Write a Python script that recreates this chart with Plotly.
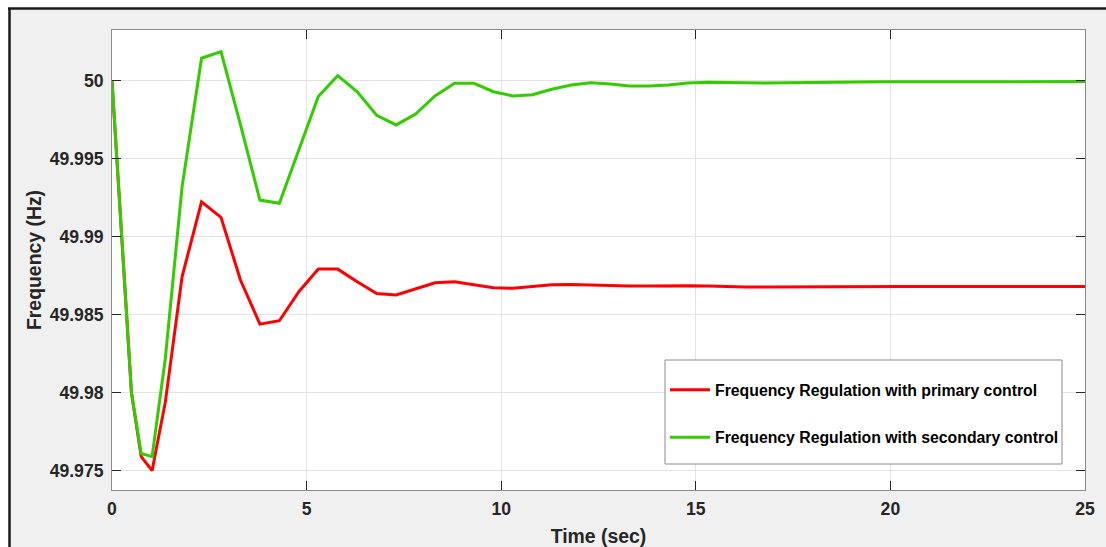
import plotly.graph_objects as go

# Time axis (s)
time_s = [0, 0.5, 0.75, 1.03, 1.37, 1.8,
          2.3, 2.8, 3.3, 3.8, 4.3, 4.8, 5.3, 5.8, 6.3, 6.8, 7.3, 7.8, 8.3, 8.8,
          9.3, 9.8, 10.3, 10.8, 11.3, 11.8, 12.3, 12.8, 13.3, 13.8, 14.3, 14.8,
          15.3, 15.8, 16.3, 16.8, 17.3, 17.8, 18.3, 18.8, 19.3, 19.8, 20.3, 20.8,
          21.3, 21.8, 22.3, 22.8, 23.3, 23.8, 24.3, 24.8, 25]

# Frequency with primary control only (Hz)
freq_primary = [50.0, 49.9800, 49.9759, 49.9750, 49.9794, 49.98744,
                49.99225, 49.99125, 49.98723, 49.98440, 49.98462, 49.98648,
                49.98793, 49.98793, 49.98712, 49.98636, 49.98627, 49.98665,
                49.98705, 49.98712, 49.98694, 49.98673, 49.98670, 49.98681,
                49.98693, 49.98695, 49.98691, 49.98686, 49.98684, 49.98684,
                49.98686, 49.98687, 49.98685, 49.98680, 49.98678, 49.98679,
                49.98680, 49.98681, 49.98682, 49.98682, 49.98682, 49.98682,
                49.98682, 49.98682, 49.98682, 49.98682, 49.98682, 49.98682,
                49.98682, 49.98682, 49.98682, 49.98682, 49.98682]

# Frequency with secondary control (Hz)
freq_secondary = [50.0, 49.9800, 49.9761, 49.9759, 49.9822, 49.9932,
                  50.00146, 50.00188, 49.99720, 49.99236, 49.99215, 49.99564,
                  49.99900, 50.00034, 49.99931, 49.99780, 49.99718, 49.99788,
                  49.99904, 49.99985, 49.99985, 49.99931, 49.99904, 49.99912,
                  49.99947, 49.99974, 49.99989, 49.99981, 49.99968, 49.99968,
                  49.99974, 49.99987, 49.99992, 49.99991, 49.99988, 49.99987,
                  49.99988, 49.99990, 49.99992, 49.99994, 49.99995, 49.99995,
                  49.99995, 49.99995, 49.99996, 49.99996, 49.99996, 49.99996,
                  49.99996, 49.99996, 49.99996, 49.99996, 49.99996]

series_names = ["Frequency Regulation with primary control",
                "Frequency Regulation with secondary control"]
series_colors = ["#ff0000", "#33cc00"]

x_ticks = [0, 5, 10, 15, 20, 25]
y_ticks = [49.975, 49.98, 49.985, 49.99, 49.995, 50]
y_tick_text = ["49.975", "49.98", "49.985", "49.99", "49.995", "50"]

W, H = 1106, 547
ML, MR, MT, MB = 112, 21, 30, 57
PW, PH = W - ML - MR, H - MT - MB


def xp(px):
    return (px - ML) / PW


def yp(py):
    return (H - MB - py) / PH


FONT = "Liberation Sans, Arial, sans-serif"
TICK_SIZE = 17.6
LABEL_SIZE = 19.4
LEGEND_SIZE = 15.8

fig = go.Figure()
for i, (name, ys) in enumerate(zip(series_names, [freq_primary, freq_secondary])):
    fig.add_trace(go.Scatter(
        x=time_s, y=ys, mode="lines", name=name, legendgroup=f"g{i}",
        line=dict(color=series_colors[i], width=3),
    ))

axis_common = dict(
    showline=True, linecolor="#8c8c8c", linewidth=1, mirror="ticks",
    ticks="inside", ticklen=9, tickcolor="#262626", tickwidth=1,
    showgrid=True, gridcolor="#e3e3e3", gridwidth=1, zeroline=False,
    tickfont=dict(family=FONT, size=TICK_SIZE, color="#262626", weight="bold"),
)

fig.update_xaxes(
    range=[0, 25], tickvals=x_ticks, ticklabelstandoff=3,
    title=dict(text="Time (sec)", standoff=14,
               font=dict(family=FONT, size=LABEL_SIZE, color="#262626", weight="bold")),
    **axis_common,
)
fig.update_yaxes(
    range=[49.97376, 50.00327], tickvals=y_ticks, ticktext=y_tick_text,
    ticklabelstandoff=4,
    title=dict(text="Frequency (Hz)", standoff=2,
               font=dict(family=FONT, size=LABEL_SIZE, color="#262626", weight="bold")),
    **axis_common,
)

shapes = [
    # white margin outside the figure frame
    dict(type="rect", xref="paper", yref="paper", x0=xp(-5), x1=xp(W + 5),
         y0=yp(8), y1=yp(-5), fillcolor="white", line=dict(width=0), layer="below"),
    dict(type="rect", xref="paper", yref="paper", x0=xp(-5), x1=xp(9),
         y0=yp(H + 5), y1=yp(8), fillcolor="white", line=dict(width=0), layer="below"),
    # dark frame edges
    dict(type="line", xref="paper", yref="paper", x0=xp(8), x1=xp(W + 5),
         y0=yp(8.5), y1=yp(8.5), line=dict(color="#1a1a1a", width=2.5)),
    dict(type="line", xref="paper", yref="paper", x0=xp(9.5), x1=xp(9.5),
         y0=yp(8), y1=yp(H + 5), line=dict(color="#1a1a1a", width=2.5)),
    # legend box
    dict(type="rect", xref="paper", yref="paper", x0=xp(665), x1=xp(1062),
         y0=yp(464), y1=yp(360), fillcolor="white",
         line=dict(color="#8c8c8c", width=1), layer="above"),
]

fig.update_layout(
    width=W, height=H,
    margin=dict(l=ML, r=MR, t=MT, b=MB, autoexpand=False),
    paper_bgcolor="#f0f0f0", plot_bgcolor="white",
    shapes=shapes,
    showlegend=True,
    legend=dict(
        x=xp(665), y=yp(373), xanchor="left", yanchor="top",
        bgcolor="rgba(0,0,0,0)", borderwidth=0,
        itemwidth=40, tracegroupgap=24,
        font=dict(family=FONT, size=LEGEND_SIZE, color="#000000", weight="bold"),
    ),
)

fig.write_html("out.html")
